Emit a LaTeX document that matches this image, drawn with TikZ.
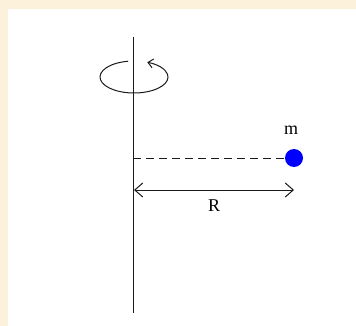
\documentclass[tikz,border=0pt]{standalone}
\usepackage{fontspec}
\setmainfont{Liberation Serif}
\usepackage{tikz}
\usetikzlibrary{arrows.meta,positioning}
\definecolor{Beige}{HTML}{FCF1DA}
\definecolor{Blue}{HTML}{0000FF}
\definecolor{Ink}{HTML}{1A1A1A}

\begin{document}
\begin{tikzpicture}[x=1pt,y=-1pt,line width=1pt,
  >={Straight Barb[length=8pt,width=14pt]},
  lbl/.style={font=\fontsize{18}{20}\selectfont}]
\fill[Beige] (0,0) rectangle (356,326);
\fill[white] (8,9) rectangle (356,326);
\coordinate (axtop) at (133,37);
\coordinate (axbot) at (133,313);
\coordinate (axmid) at (133,158);
\coordinate (rleft) at (134,190);
\coordinate (rright) at (294,190);
\draw[Ink] (axtop) -- (axbot);
\draw[Ink,-{Straight Barb[length=5pt,width=9pt]}] (134,77) ++(-100:34 and 16) arc[start angle=-100,end angle=-427,x radius=34,y radius=16];
\node[circle,fill=Blue,inner sep=0pt,minimum size=18pt] (mass) at (294,158) {};
\draw[Ink,dash pattern=on 8pt off 5pt] (axmid) -- (mass.west);
\draw[Ink,<->] (rleft) -- (rright);
\node[lbl] (mlab) at (291,130) {m};
\node[lbl] (rlab) at (214,206) {R};
\end{tikzpicture}
\end{document}
